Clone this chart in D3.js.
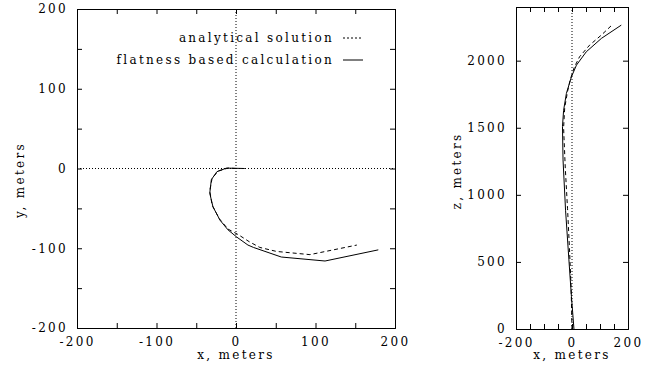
<!doctype html>
<html lang="en">
<head>
<meta charset="utf-8">
<title>Trajectory</title>
<script src="https://d3js.org/d3.v7.min.js"></script>
<style>
  body { margin: 0; background: #fff; }
  text { font-family: "DejaVu Serif", serif; font-size: 12px; letter-spacing: 2.3px; fill: #000; }
</style>
</head>
<body>
<svg id="chart" width="655" height="367"></svg>
<script>
// horizontal plane, x / y in meters
var anaX = [0, -10, -22, -30, -33, -30, -21, -10, 3, 17, 30, 51, 93, 152];
var anaY = [0, 0.5, -3, -12, -28, -46, -63, -76, -83, -92, -99, -104, -108, -96];
var flatX = [11, -12, -24, -31, -33, -29, -20, -10, 1, 15, 22, 57, 112, 179];
var flatY = [0, 0.5, -4, -14, -31, -48, -65, -77, -86, -96, -99, -111, -116, -102];

// vertical plane, x / z in meters
var anaXz = [0, -3, -9, -16, -24, -30, -26, -16, -6, 8, 27, 63, 105, 146];
var anaZ = [0, 300, 600, 900, 1200, 1500, 1650, 1770, 1860, 1950, 2029, 2116, 2191, 2272];
var flatXz = [7, -2, -11, -23, -32, -34, -30, -20, -2, 16, 51, 105, 176];
var flatZ = [0, 240, 515, 885, 1260, 1510, 1630, 1756, 1880, 1967, 2066, 2166, 2265];

var legendLabels = ["analytical solution", "flatness based calculation"];

const svg = d3.select("#chart");

function zip(a, b) { return a.map((v, i) => [v, b[i]]); }

function panel(opt) {
    var x = d3.scaleLinear().domain(opt.xDomain).range([opt.left, opt.right]);
    var y = d3.scaleLinear().domain(opt.yDomain).range([opt.bottom, opt.top]);
    var g = svg.append("g");

    var lab = d => (d % opt.xLabelStep === 0 ? String(d) : "");
    var labY = d => (d % opt.yLabelStep === 0 ? String(d) : "");

    g.append("g").attr("transform", `translate(0,${opt.bottom})`)
        .call(d3.axisBottom(x).tickValues(opt.xTicks).tickSize(-5).tickPadding(9).tickFormat(lab));
    g.append("g").attr("transform", `translate(0,${opt.top})`)
        .call(d3.axisTop(x).tickValues(opt.xTicks).tickSize(-5).tickFormat(""));
    g.append("g").attr("transform", `translate(${opt.left},0)`)
        .call(d3.axisLeft(y).tickValues(opt.yTicks).tickSize(-5).tickPadding(9).tickFormat(labY));
    g.append("g").attr("transform", `translate(${opt.right},0)`)
        .call(d3.axisRight(y).tickValues(opt.yTicks).tickSize(-5).tickFormat(""));

    g.selectAll(".domain").attr("stroke", "#000").attr("stroke-width", 1);
    g.selectAll(".tick line").attr("stroke", "#000");
    g.selectAll(".tick text").attr("font-family", null).attr("font-size", null);

    // zero lines
    if (opt.hZero) {
        g.append("line").attr("x1", opt.left).attr("x2", opt.right)
            .attr("y1", y(0)).attr("y2", y(0))
            .attr("stroke", "#000").attr("stroke-dasharray", "1,2");
    }
    g.append("line").attr("x1", x(0)).attr("x2", x(0))
        .attr("y1", opt.top).attr("y2", opt.bottom)
        .attr("stroke", "#000").attr("stroke-dasharray", "1,2");

    var line = d3.line().x(d => x(d[0])).y(d => y(d[1]));
    g.append("path").datum(opt.ana).attr("d", line)
        .attr("fill", "none").attr("stroke", "#000").attr("stroke-dasharray", "4,3");
    g.append("path").datum(opt.flat).attr("d", line)
        .attr("fill", "none").attr("stroke", "#000");

    g.append("text").attr("x", (opt.left + opt.right) / 2).attr("y", 359)
        .attr("text-anchor", "middle").text("x, meters");
    g.append("text")
        .attr("transform", `translate(${opt.ylabX},${opt.ylabY}) rotate(-90)`)
        .attr("text-anchor", "middle").attr("dy", "0.35em").text(opt.yTitle);
    return g;
}

panel({
    left: 77, right: 395, top: 9, bottom: 328,
    xDomain: [-200, 200], yDomain: [-200, 200],
    xTicks: d3.range(-200, 201, 50), yTicks: d3.range(-200, 201, 50),
    xLabelStep: 100, yLabelStep: 100, hZero: true,
    ana: zip(anaX, anaY), flat: zip(flatX, flatY),
    yTitle: "y, meters", ylabX: 20, ylabY: 180
});

panel({
    left: 516, right: 628, top: 7, bottom: 329,
    xDomain: [-200, 200], yDomain: [0, 2400],
    xTicks: d3.range(-200, 201, 50), yTicks: d3.range(0, 2001, 500),
    xLabelStep: 200, yLabelStep: 500, hZero: false,
    ana: zip(anaXz, anaZ), flat: zip(flatXz, flatZ),
    yTitle: "z, meters", ylabX: 457, ylabY: 171
});

// legend
var legend = svg.append("g");
legendLabels.forEach(function(t, i) {
    var yy = 38 + i * 22;
    legend.append("text").attr("x", 334).attr("y", yy).attr("dy", "0.35em")
        .attr("text-anchor", "end").text(t);
    legend.append("line").attr("x1", 343).attr("x2", 363).attr("y1", yy).attr("y2", yy)
        .attr("stroke", "#000").attr("stroke-dasharray", i === 0 ? "2,2" : null);
});
</script>
</body>
</html>
